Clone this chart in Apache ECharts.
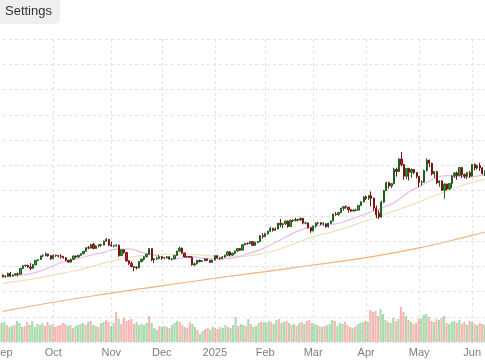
<!DOCTYPE html>
<html><head><meta charset="utf-8">
<script src="https://cdn.jsdelivr.net/npm/echarts/dist/echarts.min.js"></script>
<style>
html,body{margin:0;padding:0;width:485px;height:360px;overflow:hidden;background:#fff}
#c{position:absolute;left:-10px;top:0;width:505px;height:360px}
</style></head>
<body><div id="c"></div>
<script>
const dates = [
'2024-09-03','2024-09-04','2024-09-05','2024-09-06','2024-09-09','2024-09-10','2024-09-11','2024-09-12','2024-09-13','2024-09-16','2024-09-17','2024-09-18','2024-09-19','2024-09-20','2024-09-23','2024-09-24','2024-09-25','2024-09-26','2024-09-27','2024-09-30',
'2024-10-01','2024-10-02','2024-10-03','2024-10-04','2024-10-07','2024-10-08','2024-10-09','2024-10-10','2024-10-11','2024-10-14','2024-10-15','2024-10-16','2024-10-17','2024-10-18','2024-10-21','2024-10-22','2024-10-23','2024-10-24','2024-10-25','2024-10-28','2024-10-29','2024-10-30','2024-10-31',
'2024-11-01','2024-11-04','2024-11-05','2024-11-06','2024-11-07','2024-11-08','2024-11-11','2024-11-12','2024-11-13','2024-11-14','2024-11-15','2024-11-18','2024-11-19','2024-11-20','2024-11-21','2024-11-22','2024-11-25','2024-11-26','2024-11-27','2024-11-29',
'2024-12-02','2024-12-03','2024-12-04','2024-12-05','2024-12-06','2024-12-09','2024-12-10','2024-12-11','2024-12-12','2024-12-13','2024-12-16','2024-12-17','2024-12-18','2024-12-19','2024-12-20','2024-12-23','2024-12-24','2024-12-26','2024-12-27','2024-12-30','2024-12-31',
'2025-01-02','2025-01-03','2025-01-06','2025-01-07','2025-01-08','2025-01-10','2025-01-13','2025-01-14','2025-01-15','2025-01-16','2025-01-17','2025-01-21','2025-01-22','2025-01-23','2025-01-24','2025-01-27','2025-01-28','2025-01-29','2025-01-30','2025-01-31',
'2025-02-03','2025-02-04','2025-02-05','2025-02-06','2025-02-07','2025-02-10','2025-02-11','2025-02-12','2025-02-13','2025-02-14','2025-02-18','2025-02-19','2025-02-20','2025-02-21','2025-02-24','2025-02-25','2025-02-26','2025-02-27','2025-02-28',
'2025-03-03','2025-03-04','2025-03-05','2025-03-06','2025-03-07','2025-03-10','2025-03-11','2025-03-12','2025-03-13','2025-03-14','2025-03-17','2025-03-18','2025-03-19','2025-03-20','2025-03-21','2025-03-24','2025-03-25','2025-03-26','2025-03-27','2025-03-28','2025-03-31',
'2025-04-01','2025-04-02','2025-04-03','2025-04-04','2025-04-07','2025-04-08','2025-04-09','2025-04-10','2025-04-11','2025-04-14','2025-04-15','2025-04-16','2025-04-17','2025-04-21','2025-04-22','2025-04-23','2025-04-24','2025-04-25','2025-04-28','2025-04-29','2025-04-30',
'2025-05-01','2025-05-02','2025-05-05','2025-05-06','2025-05-07','2025-05-08','2025-05-09','2025-05-12','2025-05-13','2025-05-14','2025-05-15','2025-05-16','2025-05-19','2025-05-20','2025-05-21','2025-05-22','2025-05-23','2025-05-27','2025-05-28','2025-05-29','2025-05-30',
'2025-06-02','2025-06-03','2025-06-04','2025-06-05','2025-06-06','2025-06-09','2025-06-10'
];
// [open, close, low, high]
const ohlc = [
[2530,2518,2510,2535],[2518,2520,2510,2530],[2520,2542,2515,2550],[2542,2522,2515,2555],[2522,2531,2518,2536],[2531,2541,2525,2546],[2541,2537,2520,2550],[2537,2583,2535,2587],[2583,2603,2578,2610],[2603,2607,2595,2614],[2607,2594,2588,2612],[2594,2584,2570,2625],[2584,2612,2580,2618],[2612,2647,2608,2650],[2647,2653,2640,2658],[2653,2682,2650,2685],[2682,2684,2672,2695],[2684,2697,2678,2710],[2697,2683,2675,2700],[2683,2659,2650,2690],
[2659,2687,2655,2695],[2687,2683,2674,2692],[2683,2681,2670,2690],[2681,2678,2660,2695],[2678,2668,2660,2682],[2668,2647,2640,2672],[2647,2633,2628,2652],[2633,2655,2630,2660],[2655,2681,2650,2686],[2681,2674,2665,2685],[2674,2687,2668,2692],[2687,2699,2683,2703],[2699,2718,2695,2722],[2718,2746,2715,2750],[2746,2745,2735,2760],[2745,2773,2740,2777],[2773,2740,2735,2784],[2740,2761,2738,2765],[2761,2772,2750,2775],[2772,2768,2755,2778],[2768,2799,2765,2803],[2799,2813,2795,2825],[2813,2768,2760,2815],
[2768,2761,2755,2795],[2761,2762,2750,2770],[2762,2768,2755,2775],[2768,2684,2675,2770],[2684,2731,2680,2735],[2731,2709,2700,2735],[2709,2643,2635,2712],[2643,2623,2610,2648],[2623,2598,2590,2640],[2598,2590,2561,2600],[2590,2587,2575,2600],[2587,2637,2585,2640],[2637,2656,2630,2660],[2656,2675,2645,2680],[2675,2695,2670,2700],[2695,2740,2692,2745],[2740,2650,2640,2742],[2650,2658,2625,2665],[2658,2663,2650,2675],[2663,2675,2655,2690],
[2675,2665,2650,2680],[2665,2668,2655,2675],[2668,2675,2660,2680],[2675,2657,2650,2678],[2657,2658,2645,2665],[2658,2685,2655,2690],[2685,2719,2680,2722],[2719,2743,2712,2755],[2743,2705,2700,2748],[2705,2673,2668,2708],[2673,2677,2665,2682],[2677,2671,2665,2680],[2671,2611,2605,2680],[2611,2619,2600,2630],[2619,2647,2615,2650],[2647,2638,2630,2652],[2638,2643,2635,2648],[2643,2658,2640,2665],[2658,2646,2640,2662],[2646,2631,2625,2650],[2631,2649,2628,2652],
[2649,2683,2645,2688],[2683,2665,2660,2690],[2665,2660,2650,2670],[2660,2673,2655,2680],[2673,2687,2668,2692],[2687,2714,2682,2720],[2714,2688,2680,2718],[2688,2702,2685,2708],[2702,2721,2695,2725],[2721,2740,2715,2745],[2740,2727,2722,2745],[2727,2770,2725,2775],[2770,2781,2765,2786],[2781,2780,2770,2788],[2780,2795,2775,2800],[2795,2765,2760,2795],[2765,2790,2762,2795],[2790,2795,2780,2800],[2795,2842,2790,2848],[2842,2835,2820,2862],
[2835,2857,2830,2865],[2857,2877,2850,2882],[2877,2900,2870,2912],[2900,2885,2875,2905],[2885,2895,2880,2908],[2895,2940,2892,2945],[2940,2930,2910,2975],[2930,2936,2900,2942],[2936,2958,2928,2962],[2958,2915,2905,2962],[2915,2965,2912,2968],[2965,2962,2950,2970],[2962,2970,2955,2985],[2970,2966,2955,2975],[2966,2980,2960,2985],[2980,2942,2932,2982],[2942,2943,2932,2952],[2943,2905,2898,2946],[2905,2880,2865,2908],
[2880,2918,2877,2922],[2918,2942,2905,2947],[2942,2945,2930,2952],[2945,2935,2925,2950],[2935,2936,2920,2950],[2936,2914,2905,2940],[2914,2941,2905,2945],[2941,2959,2935,2962],[2959,3013,2955,3016],[3013,3009,3000,3030],[3009,3025,3000,3028],[3025,3060,3020,3063],[3060,3072,3040,3075],[3072,3068,3055,3082],[3068,3048,3025,3070],[3048,3037,3030,3055],[3037,3045,3035,3050],[3045,3044,3035,3055],[3044,3082,3040,3085],[3082,3110,3078,3115],[3110,3149,3105,3155],
[3149,3138,3125,3160],[3138,3159,3125,3165],[3159,3139,3075,3192],[3139,3062,3040,3145],[3062,3007,2980,3080],[3020,2990,2975,3045],[2990,3108,2985,3120],[3108,3200,3100,3205],[3200,3262,3195,3270],[3262,3236,3215,3270],[3236,3254,3220,3260],[3254,3367,3250,3380],[3367,3351,3310,3382],[3351,3449,3345,3455],[3449,3405,3390,3505],[3405,3313,3285,3410],[3313,3374,3290,3378],[3374,3344,3280,3380],[3344,3366,3300,3375],[3366,3342,3330,3370],[3342,3313,3295,3345],
[3313,3263,3225,3315],[3263,3266,3240,3280],[3266,3358,3260,3365],[3358,3440,3350,3455],[3440,3416,3385,3445],[3416,3331,3320,3420],[3331,3350,3300,3355],[3350,3261,3250,3355],[3261,3276,3230,3280],[3276,3202,3195,3280],[3202,3251,3135,3255],[3251,3212,3200,3255],[3212,3255,3205,3260],[3255,3315,3220,3320],[3315,3339,3300,3345],[3339,3319,3285,3350],[3319,3382,3315,3385],[3382,3326,3300,3385],[3326,3313,3295,3335],[3313,3342,3290,3345],[3342,3314,3300,3355],
[3314,3406,3310,3410],[3406,3378,3360,3415],[3378,3398,3365,3405],[3398,3378,3355,3420],[3378,3335,3325,3385],[3335,3351,3315,3360],[3351,3325,3310,3360]
];
const volumes = [
180,190,200,170,150,160,170,210,190,150,160,200,170,210,150,180,170,190,160,200,
170,180,150,160,170,190,180,160,170,140,160,170,180,190,170,200,210,170,160,150,190,200,220,
200,160,190,300,230,180,240,210,220,230,180,200,170,180,170,190,260,190,140,120,
160,150,160,150,140,170,190,210,200,170,150,140,200,180,150,120,80,110,130,140,120,
150,140,130,150,140,170,150,140,170,250,160,180,170,160,230,180,150,160,190,200,
200,190,210,200,180,220,230,190,200,210,190,170,180,160,190,200,180,210,220,
190,180,170,160,150,160,170,180,220,210,160,190,180,200,170,150,140,150,180,190,200,
210,200,320,300,310,260,330,280,220,200,190,240,210,230,350,300,260,220,200,180,190,
230,240,270,280,250,210,200,230,220,240,260,190,180,200,210,190,220,180,200,170,210,
200,180,170,190,180,170,170
];
const ma20 = [
['2024-09-03',2515],['2024-09-10',2525],['2024-09-17',2537],['2024-09-24',2562],['2024-10-01',2605],['2024-10-08',2640],['2024-10-15',2662],['2024-10-22',2688],['2024-10-29',2710],['2024-11-05',2735],['2024-11-12',2738],['2024-11-19',2710],['2024-11-26',2688],['2024-12-03',2668],['2024-12-10',2660],['2024-12-17',2678],['2024-12-24',2665],['2024-12-31',2660],['2025-01-08',2660],['2025-01-15',2668],['2025-01-23',2700],['2025-01-30',2732],['2025-02-06',2778],['2025-02-13',2830],['2025-02-21',2880],['2025-02-28',2912],['2025-03-07',2925],['2025-03-14',2935],['2025-03-21',2965],['2025-03-28',3000],['2025-04-04',3040],['2025-04-11',3075],['2025-04-17',3115],['2025-04-25',3190],['2025-05-02',3240],['2025-05-09',3295],['2025-05-16',3318],['2025-05-23',3310],['2025-05-30',3308],['2025-06-06',3320],['2025-06-10',3325]
];
const ma50 = [
['2024-09-03',2465],['2024-09-16',2490],['2024-10-01',2530],['2024-10-15',2570],['2024-11-01',2640],['2024-11-15',2680],['2024-12-02',2695],['2024-12-16',2695],['2025-01-02',2680],['2025-01-15',2675],['2025-02-03',2705],['2025-02-14',2760],['2025-03-03',2835],['2025-03-14',2880],['2025-04-01',2960],['2025-04-15',3030],['2025-05-01',3110],['2025-05-15',3190],['2025-06-02',3265],['2025-06-10',3290]
];
const ma200 = [
['2024-09-03',2242],['2024-10-01',2315],['2024-11-01',2387],['2024-12-02',2445],['2025-01-02',2505],['2025-02-03',2558],['2025-03-03',2610],['2025-04-01',2668],['2025-05-01',2745],['2025-06-02',2845],['2025-06-10',2875]
];
const monthLabels = ['Sep','Oct','Nov','Dec','2025','Feb','Mar','Apr','May','Jun'];

const labelAt = {};
let k = 0;
dates.forEach((d, i) => {
  if (i === 0 || d.slice(0, 7) !== dates[i - 1].slice(0, 7)) labelAt[i] = monthLabels[k++];
});
const isMonthStart = (i) => labelAt[i] !== undefined;

const volData = volumes.map((v, i) => ({
  value: v,
  itemStyle: { color: ohlc[i][1] >= ohlc[i][0] ? 'rgba(102,187,106,0.55)' : 'rgba(239,110,110,0.5)' }
}));

const chart = echarts.init(document.getElementById('c'), null, { renderer: 'canvas' });
const gridLeft = 9.2, gridWidth = 488.1;
const dash = { color: '#e2e2e2', type: [3, 3], width: 1 };
chart.setOption({
  animation: false,
  backgroundColor: '#ffffff',
  graphic: [
    { type: 'rect', left: 3, top: -6, shape: { width: 67, height: 30, r: 5 }, style: { fill: '#efefef' }, z: 100 },
    { type: 'text', left: 15, top: 5, style: { text: 'Settings', fill: '#333333', font: '13px "Liberation Sans", Arial, sans-serif' }, z: 101 }
  ],
  grid: [
    { left: gridLeft, width: gridWidth, top: 39, bottom: 18 },
    { left: gridLeft, width: gridWidth, bottom: 18, height: 40 }
  ],
  xAxis: [
    {
      type: 'category', data: dates, gridIndex: 0, boundaryGap: false,
      axisLine: { show: false }, axisTick: { show: false },
      axisLabel: {
        interval: (i) => isMonthStart(i),
        formatter: (v, i) => labelAt[i] || '',
        color: '#7d7d7d', fontSize: 11, margin: 5,
        fontFamily: '"Liberation Sans", Arial, sans-serif'
      },
      splitLine: { show: true, interval: (i) => i > 0 && isMonthStart(i), lineStyle: dash }
    },
    {
      type: 'category', data: dates, gridIndex: 1, boundaryGap: false,
      axisLine: { show: false }, axisTick: { show: false }, axisLabel: { show: false }, splitLine: { show: false }
    }
  ],
  yAxis: [
    {
      type: 'value', gridIndex: 0, min: 2000, max: 4400, interval: 200,
      axisLabel: { show: false }, axisLine: { show: false }, axisTick: { show: false },
      splitLine: { show: true, lineStyle: dash }
    },
    {
      type: 'value', gridIndex: 1, min: 0, max: 400,
      axisLabel: { show: false }, axisLine: { show: false }, axisTick: { show: false }, splitLine: { show: false }
    }
  ],
  series: [
    {
      type: 'bar', xAxisIndex: 1, yAxisIndex: 1, data: volData, barWidth: '85%', z: 1
    },
    {
      type: 'line', data: ma200, showSymbol: false, smooth: true, z: 2,
      lineStyle: { color: '#f2b27e', width: 1.2 }
    },
    {
      type: 'line', data: ma50, showSymbol: false, smooth: true, z: 2,
      lineStyle: { color: '#efe0b8', width: 1.2 }
    },
    {
      type: 'line', data: ma20, showSymbol: false, smooth: true, z: 2,
      lineStyle: { color: '#e6bde6', width: 1.2 }
    },
    {
      type: 'candlestick', data: ohlc, barWidth: '70%', z: 3,
      itemStyle: {
        color: '#3d9b3d', color0: '#c62828',
        borderColor: '#1f5f1f', borderColor0: '#7d1010', borderWidth: 1
      }
    }
  ]
});
</script>
</body></html>
